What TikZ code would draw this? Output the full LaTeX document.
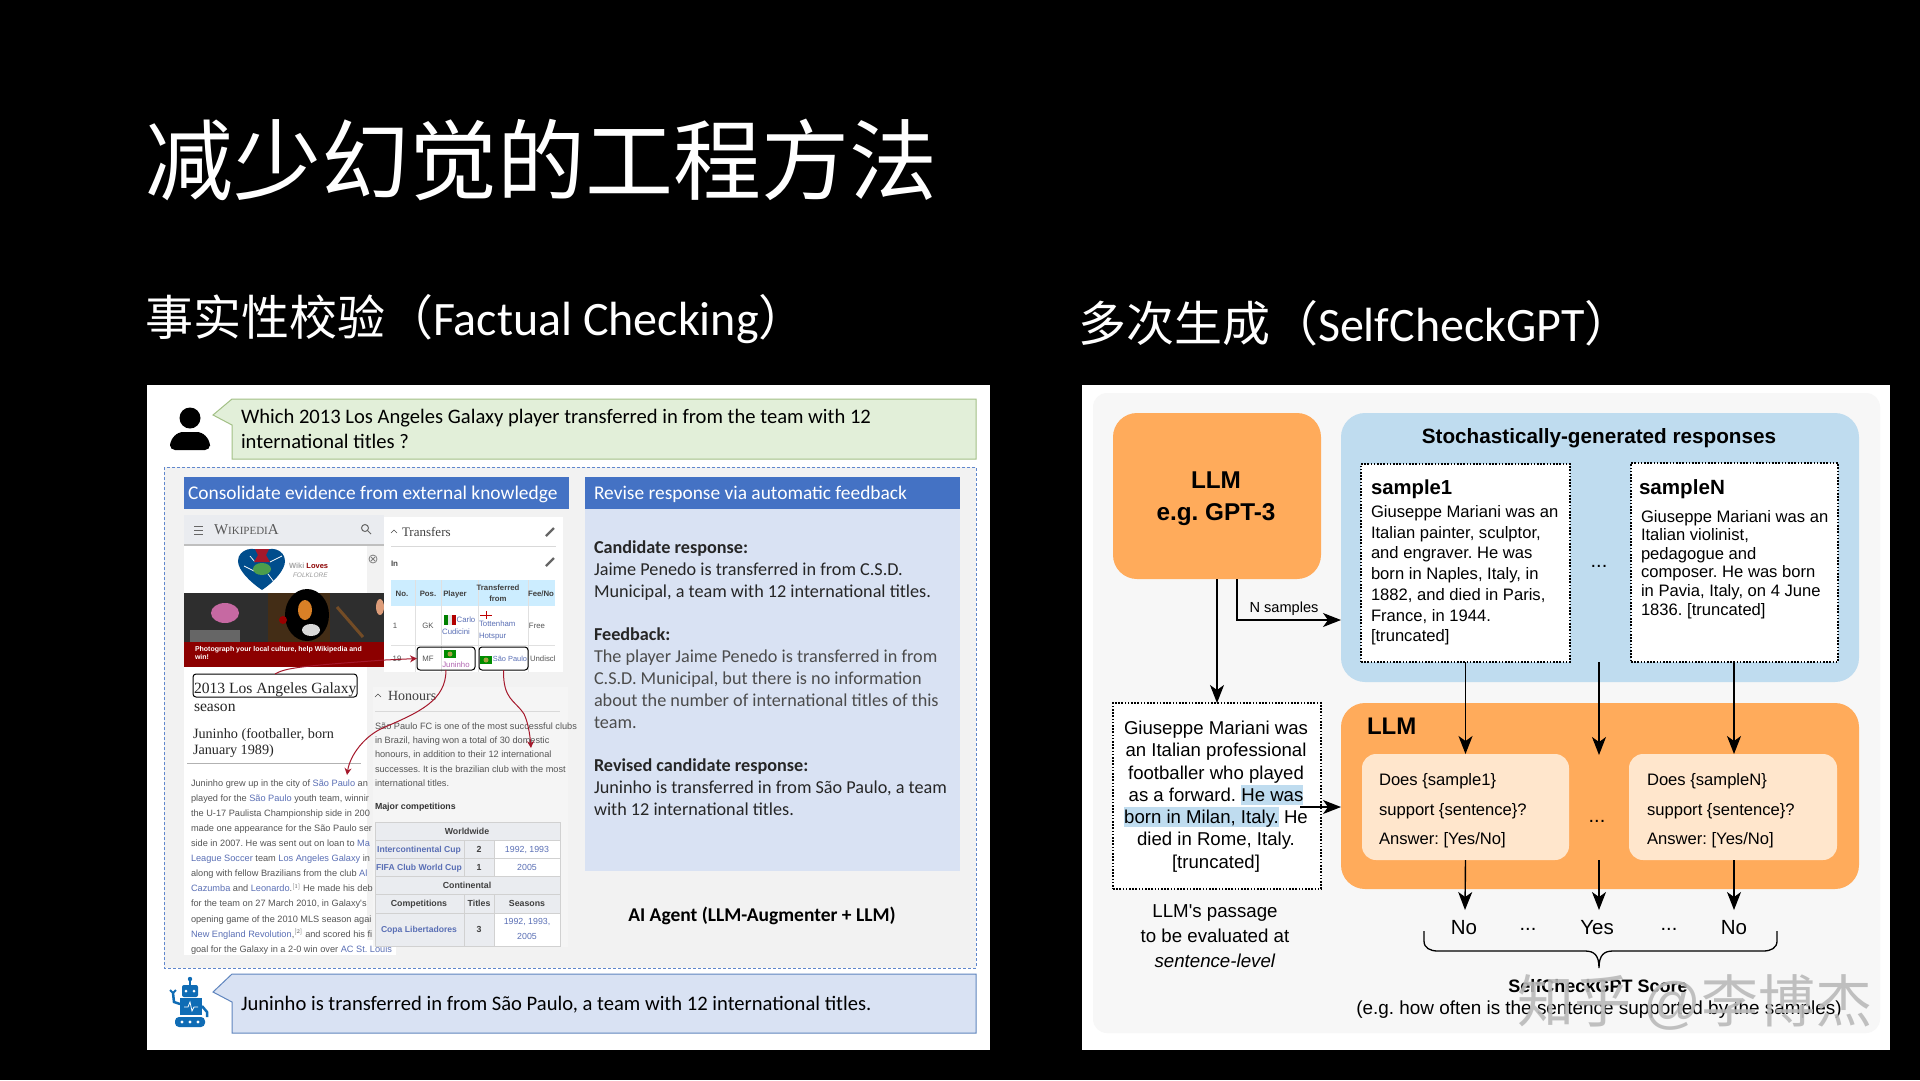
\documentclass[tikz,border=0pt]{standalone}
\usepackage{fontspec}
\usetikzlibrary{arrows.meta}
\newfontfamily\cjk{Noto Sans CJK SC}
\newfontfamily\cali{Carlito}
\newfontfamily\ari{Liberation Sans}
\newfontfamily\wikiserif{Liberation Serif}
\newcommand{\fs}[2]{\fontsize{#1}{#2}\selectfont}
\newcommand{\wlink}[1]{\textcolor{wikiblue}{#1}}
\definecolor{llmorange}{HTML}{FFAB5B}
\definecolor{respblue}{HTML}{BFDCEF}
\definecolor{checkcream}{HTML}{FFE6CC}
\definecolor{panelgrey}{HTML}{F7F7F7}
\definecolor{headblue}{HTML}{4472C4}
\definecolor{bodyblue}{HTML}{D9E2F3}
\definecolor{askgreen}{HTML}{E2EFD9}
\definecolor{askedge}{HTML}{A3C086}
\definecolor{replyedge}{HTML}{5F85BE}
\definecolor{wikiblue}{HTML}{5A6FB5}
\definecolor{wikigrey}{HTML}{EAECF0}
\definecolor{wikitext}{HTML}{555555}
\definecolor{linkred}{HTML}{A5182B}
\definecolor{robotblue}{HTML}{0F6CB5}
\begin{document}
\frenchspacing
\begin{tikzpicture}[x=1pt,y=-1pt]
   \tikzstyle{every node}=[inner sep=0pt, outer sep=0pt]
   \tikzstyle{tbox}=[anchor=mid west]
   \tikzstyle{tmid}=[anchor=mid]
   \tikzstyle{orangebox}=[fill=llmorange, rounded corners=24pt]
   \tikzstyle{dotbox}=[draw=black, fill=white, dash pattern=on 1.6pt off 1.6pt, line width=1.6pt]
   \tikzstyle{creambox}=[fill=checkcream, rounded corners=14pt]
   \tikzstyle{arrow}=[black, line width=1.4pt, -{Stealth[length=18pt,width=14pt,inset=5pt]}]
   \tikzstyle{headbar}=[fill=headblue]
   \tikzstyle{redlink}=[linkred, line width=1pt, -{Stealth[length=7pt,width=7pt]}]
   \tikzstyle{markbox}=[draw=black, rounded corners=3pt, line width=1pt]
   \tikzstyle{wikitxt}=[anchor=mid west, font=\ari\fs{9.2}{11}, text=wikitext]
   \tikzstyle{cellb}=[anchor=mid, font=\ari\bfseries\fs{7.8}{10}, text=black!75]
   \tikzstyle{cell}=[anchor=mid, font=\ari\fs{7.8}{10}, text=wikitext]

\useasboundingbox (0,0) rectangle (1920,1080);
\fill[black] (0,0) rectangle (1920,1080);

% headings
\node[tbox, text=white, font=\cjk\fs{88}{90}] (mainTitle) at (145,191) {减少幻觉的工程方法};
\node[tbox, text=white, font=\cjk\fs{48}{50}] (leftTitle) at (145,333) {事实性校验（{\cali\fs{48}{50}Factual Checking}）};
\node[tbox, text=white, font=\cjk\fs{48}{50}] (rightTitle) at (1078,339) {多次生成（{\cali\fs{48}{50}SelfCheckGPT}）};

% left panel
\fill[white] (147,385) rectangle (990,1050);
\filldraw[askgreen, draw=askedge, line width=1pt] (232,399) -- (976,399) -- (976,459) -- (232,459) -- (232,425) -- (213,415) -- cycle;
\node[anchor=north west, font=\cali\fs{20.6}{25}, align=left] (askText) at (241,409.5) {Which 2013 Los Angeles Galaxy player transferred in from the team with 12\\international titles ?};
% person
\fill[black] (190,418) circle (10.5);
\fill[black, rounded corners=5pt] (170,450) -- (170,441) -- (178,432) -- (202,432) -- (210,441) -- (210,450) -- cycle;

\filldraw[fill=black!5, draw=headblue!85, densely dashed, line width=0.7pt] (164,467) rectangle (976,968);
\node[headbar, minimum width=385pt, minimum height=32pt] (evidenceBar) at (376.5,493) {};
\node[tbox, text=white, font=\cali\fs{19.4}{24}] (evidenceText) at (188,497) {Consolidate evidence from external knowledge};
\node[headbar, minimum width=375pt, minimum height=32pt] (reviseBar) at (772.5,493) {};
\node[tbox, text=white, font=\cali\fs{19.4}{24}] (reviseText) at (594,497) {Revise response via automatic feedback};
\node[fill=bodyblue, minimum width=375pt, minimum height=362pt] (reviseBody) at (772.5,690) {};
\node[anchor=north west, font=\cali\fs{18.2}{21.8}, align=left, text=black!85] (reviseLines) at (594,541) {\textbf{Candidate response:}\\Jaime Penedo is transferred in from C.S.D.\\Municipal, a team with 12 international titles.\\[21.8pt]\textbf{Feedback:}\\\textcolor{black!70}{The player Jaime Penedo is transferred in from}\\\textcolor{black!70}{C.S.D. Municipal, but there is no information}\\\textcolor{black!70}{about the number of international titles of this}\\\textcolor{black!70}{team.}\\[21.8pt]\textbf{Revised candidate response:}\\Juninho is transferred in from São Paulo, a team\\with 12 international titles.};
\node[tmid, font=\cali\bfseries\fs{19.5}{22}] (agentLabel) at (762,919) {AI Agent (LLM-Augmenter + LLM)};

% wikipedia screenshot, left column
\fill[white] (184,545) rectangle (367,955);
\fill[white] (367,940) rectangle (396,955);
\fill[wikigrey] (184,515) rectangle (384,545);
\fill[black!25] (184,544) rectangle (384,546);
\foreach \y in {526,530,534} \draw[black!60, line width=0.8pt] (194,\y) -- (203,\y);
\node[tbox, text=black!65, font=\wikiserif\fs{15}{16}] (wikiLogo) at (214,532) {W{\fs{11}{12}IKIPEDI}A};
\draw[black!60, line width=1pt] (365,528) circle (3.5) (368,531) -- (371,534);
% puzzle heart
\fill[blue!45!cyan!55!black] (262,590) .. controls (250,582) and (238,570) .. (238,561) .. controls (238,549) and (255,545) .. (262,553) .. controls (269,545) and (285,549) .. (285,561) .. controls (285,570) and (274,582) .. (262,590) -- cycle;
\draw[white, line width=0.7pt] (244,566) -- (256,572) (268,574) -- (274,582) (270,562) -- (282,556) (250,556) -- (255,562);
\fill[linkred] (255,549) -- (269,549) -- (266,555) -- (270,562) -- (254,562) -- (258,555) -- cycle;
\fill[green!45!black!70] (262,569) ellipse (9 and 6);
\node[tbox, font=\ari\bfseries\fs{7.5}{9}, text=black!35] (lovesLabel) at (289,566) {Wiki \textcolor{red!55!black}{Loves}};
\node[tbox, font=\ari\itshape\fs{6.5}{8}, text=black!40] (folkLabel) at (293,575) {FOLKLORE};
\draw[black!50, line width=0.8pt] (373,559) circle (4);
\draw[black!50, line width=0.8pt] (371,557) -- (375,561) (375,557) -- (371,561);
% banner photo
\fill[black!82] (184,593) rectangle (384,642);
\fill[black!65!brown] (268,593) rectangle (330,642);
\fill[violet!45!pink] (225,613) ellipse (14 and 10);
\fill[black!60] (190,630) rectangle (240,642);
\fill[black] (307,615) ellipse (22 and 26);
\fill[brown!60!orange] (305,610) ellipse (7 and 10);
\fill[white!85!black] (311,630) ellipse (9 and 6);
\fill[red!60!black] (283,620) circle (4);
\draw[brown!60!black, line width=3pt] (337,607) -- (363,637);
\fill[brown!55!pink] (380,607) ellipse (4 and 8);
\fill[red!55!black] (184,642) rectangle (384,667);
\node[anchor=north west, font=\ari\bfseries\fs{7}{8.5}, align=left, text=white] (photoLabel) at (195,646) {Photograph your local culture, help Wikipedia and\\win!};
% article text
\node[tbox, font=\wikiserif\fs{15.6}{18}, text=black!85] (galaxyName) at (194,691) {2013 Los Angeles Galaxy};
\node[tbox, font=\wikiserif\fs{15.6}{18}, text=black!85] (galaxySeason) at (194,709) {season};
\node[anchor=north west, font=\wikiserif\fs{14.2}{16.5}, align=left, text=black!85] (juninhoTitle) at (193,728) {Juninho (footballer, born\\January 1989)};
\draw[black!30] (187,763) -- (361,763);
\foreach \i/\line in {0/{Juninho grew up in the city of \wlink{São Paulo} an},1/{played for the \wlink{São Paulo} youth team, winnir},2/{the U-17 Paulista Championship side in 200},3/{made one appearance for the São Paulo ser},4/{side in 2007. He was sent out on loan to \wlink{Ma}},5/{\wlink{League Soccer} team \wlink{Los Angeles Galaxy} in 2},6/{along with fellow Brazilians from the club \wlink{Al}},7/{\wlink{Cazumba} and \wlink{Leonardo}.$^{[1]}$ He made his deb},8/{for the team on 27 March 2010, in Galaxy's},9/{opening game of the 2010 MLS season agai},10/{\wlink{New England Revolution},$^{[2]}$ and scored his fi},11/{goal for the Galaxy in a 2-0 win over \wlink{AC St. Louis}}}
   \node[wikitxt] (bodyLine\i) at (191,{784+15.1*\i}) {\line};

% wikipedia screenshot, transfers
\fill[white] (384,517) rectangle (563,672);
\node[tbox, font=\wikiserif\fs{13}{15}, text=black!75] (transfersHead) at (402,534) {Transfers};
\draw[black!70] (391,533) -- (394,530) -- (397,533);
\draw[black!15] (391,546) -- (556,546);
\node[tbox, font=\ari\bfseries\fs{8}{10}, text=black!70] (inHead) at (391,564) {In};
\foreach \x/\y in {550/532,550/562,554/696} \draw[black!60, line width=2.2pt] (\x-4,\y+4) -- (\x+4,\y-4);
\fill[blue!35!cyan!20] (391,580) rectangle (555,606);
\draw[black!12] (391,645) -- (555,645) (415,580) -- (415,672) (441,580) -- (441,672) (478,580) -- (478,672) (528,580) -- (528,672);
\node[cellb] (colNo) at (402,594) {No.};
\node[cellb] (colPos) at (428,594) {Pos.};
\node[cellb] (colPlayer) at (455,594) {Player};
\node[cellb, align=center, anchor=center] (colFrom) at (498,593) {Transferred\\[1pt]from};
\node[cellb] (colFee) at (541,594) {Fee/No};
\node[cell] (rowOneNo) at (395,626) {1};
\node[cell] (rowOnePos) at (428,626) {GK};
\fill[green!50!black] (444,615) rectangle (448,625);
\fill[black!10] (448,615) rectangle (452,625);
\fill[red!70!black] (452,615) rectangle (456,625);
\node[cell, text=wikiblue] (rowOneCarlo) at (466,620) {Carlo};
\node[cell, text=wikiblue] (rowOneCudi) at (456,632) {Cudicini};
\draw[red!75!black] (480,615) -- (492,615) (486,611) -- (486,619);
\node[cell, text=wikiblue, align=left, anchor=north west] (rowOneClub) at (479,621) {Tottenham\\[2pt]Hotspur};
\node[cell] (rowOneFee) at (537,626) {Free};
\node[cell] (rowTwoNo) at (397,659) {19};
\node[cell] (rowTwoPos) at (428,659) {MF};
\fill[green!55!black] (444,650) rectangle (456,658);
\fill[yellow!60!black] (450,654) circle (2.5);
\node[cell, text=violet!60] (rowTwoName) at (456,665) {Juninho};
\fill[green!55!black] (480,656) rectangle (492,664);
\fill[yellow!60!black] (486,660) circle (2.5);
\node[cell, text=wikiblue, font=\ari\fs{7.4}{10}] (rowTwoClub) at (510,659) {São Paulo};
\node[cell, anchor=mid west] (rowTwoFee) at (530,659) {Undiscl};

% wikipedia screenshot, honours
\fill[white!96!black] (373,687) rectangle (568,947);
\draw[black!70] (375,697) -- (378,694) -- (381,697);
\node[tbox, font=\wikiserif\fs{14}{16}, text=black!75] (honoursHead) at (388,698) {Honours};
\draw[black!15] (375,711) -- (560,711);
\foreach \i/\line in {0/{São Paulo FC is one of the most successful clubs},1/{in Brazil, having won a total of 30 domestic},2/{honours, in addition to their 12 international},3/{successes. It is the brazilian club with the most},4/{international titles.}}
   \node[wikitxt] (honourLine\i) at (375,{727+14.3*\i}) {\line};
\node[wikitxt, font=\ari\bfseries\fs{8.8}{11}, text=black!80] (majorHead) at (375,807) {Major competitions};
\fill[wikigrey] (375,822) rectangle (560,946);
\fill[white] (494,840) rectangle (560,876);
\fill[white] (494,913) rectangle (560,946);
\draw[black!18] (375,822) rectangle (560,946) (375,840) -- (560,840) (375,858) -- (560,858) (375,876) -- (560,876) (375,894) -- (560,894) (375,913) -- (560,913) (464,840) -- (464,876) (494,840) -- (494,876) (464,894) -- (464,946) (494,894) -- (494,946);
\foreach \n/\x/\y/\t in {worldCell/467/832/Worldwide,contCell/467/886/Continental,compCell/419/904/Competitions,titleCell/479/904/Titles,seasonCell/527/904/Seasons,numCellA/479/850/2,numCellB/479/868/1,numCellC/479/930/3}
   \node[cellb, font=\ari\bfseries\fs{8.8}{10}] (\n) at (\x,\y) {\t};
\foreach \n/\x/\y/\t in {interCell/419/850/Intercontinental Cup,fifaCell/419/868/FIFA Club World Cup,copaCell/419/930/Copa Libertadores}
   \node[cellb, text=wikiblue, font=\ari\bfseries\fs{8.6}{10}] (\n) at (\x,\y) {\t};
\node[cell, text=wikiblue, font=\ari\fs{8.8}{10}] (yearsA) at (527,850) {1992, 1993};
\node[cell, text=wikiblue, font=\ari\fs{8.8}{10}] (yearsB) at (527,868) {2005};
\node[cell, text=wikiblue, font=\ari\fs{8.8}{14.5}, align=center, anchor=center] (yearsC) at (527,929) {1992, 1993,\\2005};

% marks and links
\node[markbox, minimum width=164pt, minimum height=23pt] (galaxyBox) at (275,685.5) {};
\node[markbox, minimum width=58pt, minimum height=23pt] (playerBox) at (446,658.5) {};
\node[markbox, minimum width=49pt, minimum height=23pt] (clubBox) at (503.5,658.5) {};
\coordinate (paulinoEnd) at (347,775);
\coordinate (titlesEnd) at (531,748);
\draw[redlink] (galaxyBox.north) .. controls (285,668) and (300,666) .. (385,660) -- (playerBox.west);
\draw[redlink] (playerBox.south) .. controls (446,700) and (420,712) .. (385,727) .. controls (365,735) and (350,755) .. (paulinoEnd);
\draw[redlink] (clubBox.south) .. controls (503,700) and (515,700) .. (524,714) .. controls (528,722) and (530,735) .. (titlesEnd);

% reply
\filldraw[bodyblue, draw=replyedge, line width=1pt] (232,974) -- (976,974) -- (976,1033) -- (232,1033) -- (232,1002) -- (213,992) -- cycle;
\node[tbox, font=\cali\fs{20.6}{24}] (replyText) at (241,1008) {Juninho is transferred in from São Paulo, a team with 12 international titles.};
% robot
\fill[robotblue] (190,979) circle (2.2);
\draw[robotblue, line width=1.5pt] (190,979) -- (190,986);
\fill[robotblue, rounded corners=2pt] (182,985) rectangle (198,997);
\fill[white] (186,991) circle (1.5) (194,991) circle (1.5);
\fill[robotblue] (180,998) rectangle (202,1015);
\draw[white, line width=0.8pt] (184,1007) -- (188,1007) -- (190,1002) -- (192,1011) -- (194,1007) -- (198,1007);
\draw[robotblue, line width=2.5pt] (180,1004) -- (174,1002) -- (173,993);
\draw[robotblue, line width=2pt] (170,990) -- (173,993) -- (176,990);
\draw[robotblue, line width=2.5pt] (202,1006) -- (207,1012) -- (207,1017);
\fill[robotblue, rounded corners=4pt] (175,1017) rectangle (205,1027);
\fill[white] (182,1022) circle (1.7) (190,1022) circle (1.7) (198,1022) circle (1.7);

% right panel
\fill[white] (1082,385) rectangle (1890,1050);
\fill[panelgrey, rounded corners=14pt] (1093,393) rectangle (1880,1033);
\node[orangebox, minimum width=208pt, minimum height=166pt] (llmBox) at (1217,496) {};
\node[font=\ari\bfseries\fs{24.3}{32}, align=center, anchor=north] (llmLabel) at (1216,472) {LLM\\e.g. GPT-3};
\node[fill=respblue, rounded corners=24pt, minimum width=518pt, minimum height=269pt] (respBox) at (1600,547.5) {};
\node[tmid, font=\ari\bfseries\fs{20.7}{24}] (respTitle) at (1599,441) {Stochastically-generated responses};
\node[dotbox, minimum width=209pt, minimum height=198pt] (sampleOneBox) at (1465.5,563) {};
\node[dotbox, minimum width=207pt, minimum height=199pt] (sampleNBox) at (1734.5,562.5) {};
\node[tbox, font=\ari\bfseries\fs{20.3}{24}] (sampleOneHead) at (1371,492.5) {sample1};
\node[tbox, font=\ari\bfseries\fs{20.6}{24}] (sampleNHead) at (1639,492.5) {sampleN};
\node[anchor=north west, font=\ari\fs{16.6}{20.7}, align=left] (sampleOneText) at (1371,505.5) {Giuseppe Mariani was an\\Italian painter, sculptor,\\and engraver. He was\\born in Naples, Italy, in\\1882, and died in Paris,\\France, in 1944.\\{[truncated]}};
\node[anchor=north west, font=\ari\fs{16.6}{18.6}, align=left] (sampleNText) at (1641,510) {Giuseppe Mariani was an\\Italian violinist,\\pedagogue and\\composer. He was born\\in Pavia, Italy, on 4 June\\1836. [truncated]};
\node[tmid, font=\ari\fs{20}{24}] (respDots) at (1599,565) {...};

\node[dotbox, minimum width=208pt, minimum height=186pt] (passageBox) at (1217,796) {};
\fill[respblue] (1241,785) rectangle (1303,805);
\fill[respblue] (1124,807) rectangle (1279,827);
\node[font=\ari\fs{18.6}{22.3}, align=center, anchor=north] (passageText) at (1216,721) {Giuseppe Mariani was\\an Italian professional\\footballer who played\\as a forward. He was\\born in Milan, Italy. He\\died in Rome, Italy.\\{[truncated]}};
\node[font=\ari\fs{18.7}{24.8}, align=center, anchor=north] (passageNote) at (1215,905) {LLM's passage\\to be evaluated at\\\textit{sentence-level}};

\node[orangebox, minimum width=518pt, minimum height=186pt] (checkBox) at (1600,796) {};
\node[tbox, font=\ari\bfseries\fs{24}{28}] (checkLabel) at (1367,732) {LLM};
\node[creambox, minimum width=207pt, minimum height=106pt] (checkOne) at (1465.5,807) {};
\node[creambox, minimum width=208pt, minimum height=106pt] (checkN) at (1733,807) {};
\node[anchor=north west, font=\ari\fs{16.6}{29.7}, align=left] (checkOneText) at (1379,773.5) {Does \{sample1\}\\support \{sentence\}?\\Answer: [Yes/No]};
\node[anchor=north west, font=\ari\fs{16.6}{29.7}, align=left] (checkNText) at (1647,773.5) {Does \{sampleN\}\\support \{sentence\}?\\Answer: [Yes/No]};
\node[tmid, font=\ari\fs{20}{24}] (checkDots) at (1597,820) {...};

\node[tmid, font=\ari\fs{20.5}{24}] (answerOne) at (1464,932) {No};
\node[tmid, font=\ari\fs{20}{24}] (answerDotsA) at (1528,928) {...};
\node[tmid, font=\ari\fs{20.5}{24}] (answerMid) at (1597,932) {Yes};
\node[tmid, font=\ari\fs{20}{24}] (answerDotsB) at (1669,928) {...};
\node[tmid, font=\ari\fs{20.5}{24}] (answerN) at (1734,932) {No};

% connectors
\coordinate (nStart) at (1237,579);
\coordinate (nBend) at (1237,620);
\coordinate (respIn) at (1341,620);
\coordinate (passageOut) at (1300,807);
\coordinate (checkIn) at (1341,807);
\coordinate (midTop) at (1599,662);
\coordinate (midIn) at (1599,755);
\coordinate (midOut) at (1599,860);
\coordinate (midEnd) at (1599,910);
\coordinate (oneEnd) at (1465,910);
\coordinate (nEnd) at (1734,910);
\coordinate (nOut) at (1734,860);
\coordinate (nIn) at (1734,754);
\coordinate (nTop) at (1734,662);
\draw[arrow] (llmBox.south) -- (passageBox.north);
\draw[arrow] (nStart) -- (nBend) -- (respIn);
\node[font=\ari\fs{14.6}{16}, anchor=mid] (nLabel) at (1284,610) {N samples};
\draw[arrow] (passageOut) -- (checkIn);
\draw[arrow] (sampleOneBox.south) -- (checkOne.north);
\draw[arrow] (midTop) -- (midIn);
\draw[arrow] (nTop) -- (nIn);
\draw[arrow] (checkOne.south) -- (oneEnd);
\draw[arrow] (midOut) -- (midEnd);
\draw[arrow] (nOut) -- (nEnd);

% brace
\draw[black, line width=1.3pt] (1424,931) -- (1424,941) .. controls (1424,948) and (1430,951) .. (1438,951) -- (1585,951) .. controls (1594,951) and (1599,955) .. (1599,968) .. controls (1599,955) and (1604,951) .. (1613,951) -- (1763,951) .. controls (1771,951) and (1777,948) .. (1777,941) -- (1777,931);
\node[tmid, font=\ari\bfseries\fs{18}{22}] (scoreHead) at (1598,990) {SelfCheckGPT Score};
\node[tmid, font=\ari\fs{18.9}{22}] (scoreNote) at (1599,1012) {(e.g. how often is the sentence supported by the samples)};
\node[tmid, font=\cjk\fs{57}{60}, text=black!27, opacity=0.9] (markText) at (1695,1020) {知乎 {\ari @}李博杰};
\end{tikzpicture}
\end{document}
